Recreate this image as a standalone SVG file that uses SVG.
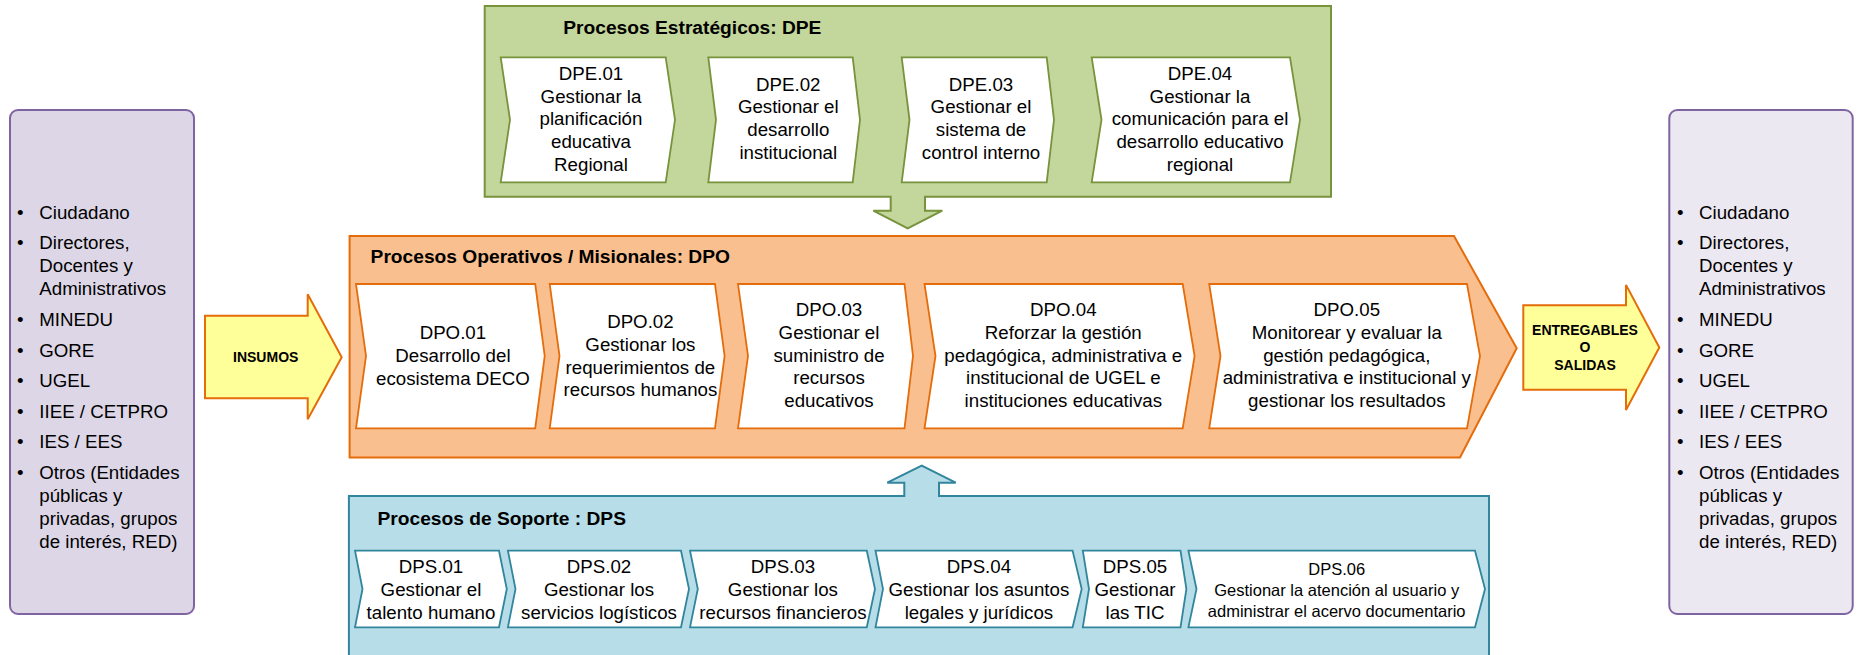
<svg xmlns="http://www.w3.org/2000/svg" width="1860" height="655" viewBox="0 0 1860 655">
<style>
text{font-family:"Liberation Sans",Arial,sans-serif;fill:#000}
.t{font-size:18.7px;text-anchor:middle}
.s{font-size:16.5px;text-anchor:middle}
.l{font-size:18.7px}
.h{font-size:19.2px;font-weight:bold}
.b{font-size:14px;font-weight:bold;text-anchor:middle}
.ce{fill:#fff;stroke:#77933c;stroke-width:1.8}
.co{fill:#fff;stroke:#e46c0a;stroke-width:1.8}
.cs{fill:#fff;stroke:#31859c;stroke-width:1.8}
.ya{fill:#ffff99;stroke:#e46c0a;stroke-width:2}
.pb{stroke:#8064a2;stroke-width:2}
</style>
<rect width="1860" height="655" fill="#fff"/>

<g id="entradas">
<rect class="pb" x="10" y="110" width="184" height="504" rx="8" fill="#dcd6e6"/>
<text class="l"><tspan x="17" y="219.3">•</tspan><tspan x="39.3" y="219.3">Ciudadano</tspan></text>
<text class="l"><tspan x="17" y="248.7">•</tspan><tspan x="39.3" y="248.7">Directores,</tspan><tspan x="39.3" y="272">Docentes y</tspan><tspan x="39.3" y="295.3">Administrativos</tspan></text>
<text class="l"><tspan x="17" y="325.8">•</tspan><tspan x="39.3" y="325.8">MINEDU</tspan></text>
<text class="l"><tspan x="17" y="356.8">•</tspan><tspan x="39.3" y="356.8">GORE</tspan></text>
<text class="l"><tspan x="17" y="386.7">•</tspan><tspan x="39.3" y="386.7">UGEL</tspan></text>
<text class="l"><tspan x="17" y="417.8">•</tspan><tspan x="39.3" y="417.8">IIEE / CETPRO</tspan></text>
<text class="l"><tspan x="17" y="448.2">•</tspan><tspan x="39.3" y="448.2">IES / EES</tspan></text>
<text class="l"><tspan x="17" y="479.3">•</tspan><tspan x="39.3" y="479.3">Otros (Entidades</tspan><tspan x="39.3" y="502.2">públicas y</tspan><tspan x="39.3" y="525">privadas, grupos</tspan><tspan x="39.3" y="547.9">de interés, RED)</tspan></text>
</g>

<g id="salidas">
<rect class="pb" x="1669.3" y="110" width="183.4" height="504" rx="8" fill="#ece8f2"/>
<text class="l"><tspan x="1677" y="219.3">•</tspan><tspan x="1699" y="219.3">Ciudadano</tspan></text>
<text class="l"><tspan x="1677" y="248.7">•</tspan><tspan x="1699" y="248.7">Directores,</tspan><tspan x="1699" y="272">Docentes y</tspan><tspan x="1699" y="295.3">Administrativos</tspan></text>
<text class="l"><tspan x="1677" y="325.8">•</tspan><tspan x="1699" y="325.8">MINEDU</tspan></text>
<text class="l"><tspan x="1677" y="356.8">•</tspan><tspan x="1699" y="356.8">GORE</tspan></text>
<text class="l"><tspan x="1677" y="386.7">•</tspan><tspan x="1699" y="386.7">UGEL</tspan></text>
<text class="l"><tspan x="1677" y="417.8">•</tspan><tspan x="1699" y="417.8">IIEE / CETPRO</tspan></text>
<text class="l"><tspan x="1677" y="448.2">•</tspan><tspan x="1699" y="448.2">IES / EES</tspan></text>
<text class="l"><tspan x="1677" y="479.3">•</tspan><tspan x="1699" y="479.3">Otros (Entidades</tspan><tspan x="1699" y="502.2">públicas y</tspan><tspan x="1699" y="525">privadas, grupos</tspan><tspan x="1699" y="547.9">de interés, RED)</tspan></text>
</g>

<g id="dpe">
<path d="M484.7,6H1331V196.7H925V210.7H942.3L907.7,228.3L873.3,210.7H890.7V196.7H484.7Z" fill="#c3d69b" stroke="#77933c" stroke-width="2"/>
<text class="h" x="563.3" y="34.3">Procesos Estratégicos: DPE</text>
</g>
<g id="dpe-01">
<polygon class="ce" points="500.7,57.3 665.7,57.3 675,119.8 665.7,182.3 500.7,182.3 510,119.8"/>
<text class="t"><tspan x="591" y="80">DPE.01</tspan><tspan x="591" y="102.7">Gestionar la</tspan><tspan x="591" y="125.4">planificación</tspan><tspan x="591" y="148">educativa</tspan><tspan x="591" y="170.7">Regional</tspan></text>
</g>
<g id="dpe-02">
<polygon class="ce" points="708.3,57.3 852.7,57.3 860,119.8 852.7,182.3 708.3,182.3 716,119.8"/>
<text class="t"><tspan x="788.3" y="90.7">DPE.02</tspan><tspan x="788.3" y="113.4">Gestionar el</tspan><tspan x="788.3" y="136">desarrollo</tspan><tspan x="788.3" y="158.7">institucional</tspan></text>
</g>
<g id="dpe-03">
<polygon class="ce" points="901.7,57.3 1046.7,57.3 1054,119.8 1046.7,182.3 901.7,182.3 909.5,119.8"/>
<text class="t"><tspan x="981" y="90.7">DPE.03</tspan><tspan x="981" y="113.4">Gestionar el</tspan><tspan x="981" y="136">sistema de</tspan><tspan x="981" y="158.7">control interno</tspan></text>
</g>
<g id="dpe-04">
<polygon class="ce" points="1091.7,57.3 1290,57.3 1300,119.8 1290,182.3 1091.7,182.3 1101.5,119.8"/>
<text class="t"><tspan x="1200" y="80">DPE.04</tspan><tspan x="1200" y="102.7">Gestionar la</tspan><tspan x="1200" y="125.4">comunicación para el</tspan><tspan x="1200" y="148">desarrollo educativo</tspan><tspan x="1200" y="170.7">regional</tspan></text>
</g>

<g id="dpo">
<path d="M349.6,236H1454L1516.7,348.3L1460,457.5H349.6Z" fill="#fabf8f" stroke="#e46c0a" stroke-width="2"/>
<text class="h" x="370.6" y="262.7">Procesos Operativos / Misionales: DPO</text>
</g>
<g id="dpo-01">
<polygon class="co" points="356,284 535.2,284 544.7,356 535.2,428.3 356,428.3 366,356"/>
<text class="t"><tspan x="452.9" y="339.3">DPO.01</tspan><tspan x="452.9" y="362">Desarrollo del</tspan><tspan x="452.9" y="384.7">ecosistema DECO</tspan></text>
</g>
<g id="dpo-02">
<polygon class="co" points="549.7,284 715,284 724.6,356 715,428.3 549.7,428.3 559.5,356"/>
<text class="t"><tspan x="640.4" y="328.3">DPO.02</tspan><tspan x="640.4" y="351">Gestionar los</tspan><tspan x="640.4" y="373.7">requerimientos de</tspan><tspan x="640.4" y="396.4">recursos humanos</tspan></text>
</g>
<g id="dpo-03">
<polygon class="co" points="738,284 904.5,284 913,356 904.5,428.3 738,428.3 748,356"/>
<text class="t"><tspan x="829" y="316.3">DPO.03</tspan><tspan x="829" y="339">Gestionar el</tspan><tspan x="829" y="361.7">suministro de</tspan><tspan x="829" y="384.4">recursos</tspan><tspan x="829" y="407.1">educativos</tspan></text>
</g>
<g id="dpo-04">
<polygon class="co" points="924.5,284 1182.7,284 1194.6,356 1182.7,428.3 924.5,428.3 935.5,356"/>
<text class="t"><tspan x="1063.3" y="316.3">DPO.04</tspan><tspan x="1063.3" y="339">Reforzar la gestión</tspan><tspan x="1063.3" y="361.7">pedagógica, administrativa e</tspan><tspan x="1063.3" y="384.4">institucional de UGEL e</tspan><tspan x="1063.3" y="407.1">instituciones educativas</tspan></text>
</g>
<g id="dpo-05">
<polygon class="co" points="1209.2,284 1467,284 1480,356 1467,428.3 1209.2,428.3 1220.5,356"/>
<text class="t"><tspan x="1346.8" y="316.3">DPO.05</tspan><tspan x="1346.8" y="339">Monitorear y evaluar la</tspan><tspan x="1346.8" y="361.7">gestión pedagógica,</tspan><tspan x="1346.8" y="384.4">administrativa e institucional y</tspan><tspan x="1346.8" y="407.1">gestionar los resultados</tspan></text>
</g>

<g id="dps">
<path d="M348.9,496H904.3V482.7H887.3L921.7,465.7L955.7,482.7H939V496H1489V670H348.9Z" fill="#b7dee8" stroke="#31859c" stroke-width="2"/>
<text class="h" x="377.5" y="525">Procesos de Soporte : DPS</text>
</g>
<g id="dps-01">
<polygon class="cs" points="355,550.7 499,550.7 506.8,589 499,627.3 355,627.3 362.5,589"/>
<text class="t"><tspan x="431" y="573.3">DPS.01</tspan><tspan x="431" y="596">Gestionar el</tspan><tspan x="431" y="618.7">talento humano</tspan></text>
</g>
<g id="dps-02">
<polygon class="cs" points="507.9,550.7 681,550.7 689,589 681,627.3 507.9,627.3 515.5,589"/>
<text class="t"><tspan x="599" y="573.3">DPS.02</tspan><tspan x="599" y="596">Gestionar los</tspan><tspan x="599" y="618.7">servicios logísticos</tspan></text>
</g>
<g id="dps-03">
<polygon class="cs" points="690,550.7 866.8,550.7 875,589 866.8,627.3 690,627.3 697.8,589"/>
<text class="t"><tspan x="782.9" y="573.3">DPS.03</tspan><tspan x="782.9" y="596">Gestionar los</tspan><tspan x="782.9" y="618.7">recursos financieros</tspan></text>
</g>
<g id="dps-04">
<polygon class="cs" points="875.5,550.7 1072.6,550.7 1081.7,589 1072.6,627.3 875.5,627.3 883,589"/>
<text class="t"><tspan x="978.9" y="573.3">DPS.04</tspan><tspan x="978.9" y="596">Gestionar los asuntos</tspan><tspan x="978.9" y="618.7">legales y jurídicos</tspan></text>
</g>
<g id="dps-05">
<polygon class="cs" points="1082.8,550.7 1180.5,550.7 1186.4,589 1180.5,627.3 1082.8,627.3 1089,589"/>
<text class="t"><tspan x="1135" y="573.3">DPS.05</tspan><tspan x="1135" y="596">Gestionar</tspan><tspan x="1135" y="618.7">las TIC</tspan></text>
</g>
<g id="dps-06">
<polygon class="cs" points="1188.4,550.7 1475,550.7 1485,589 1475,627.3 1188.4,627.3 1196.5,589"/>
<text class="s"><tspan x="1336.7" y="575">DPS.06</tspan><tspan x="1336.7" y="595.8">Gestionar la atención al usuario y</tspan><tspan x="1336.7" y="616.6">administrar el acervo documentario</tspan></text>
</g>

<g id="connectors">
<g id="insumos">
<path class="ya" d="M205,315.7H307.7V294.3L341.7,357.3L307.7,419.3V398.3H205Z"/>
<text class="b" x="265.7" y="361.7">INSUMOS</text>
</g>
<g id="entregables">
<path class="ya" d="M1523.3,305.2H1626V284.9L1659.3,347.5L1626,410V389.7H1523.3Z"/>
<text class="b"><tspan x="1585" y="335">ENTREGABLES</tspan><tspan x="1585" y="351.9">O</tspan><tspan x="1585" y="369.8">SALIDAS</tspan></text>
</g>
</g>
</svg>
